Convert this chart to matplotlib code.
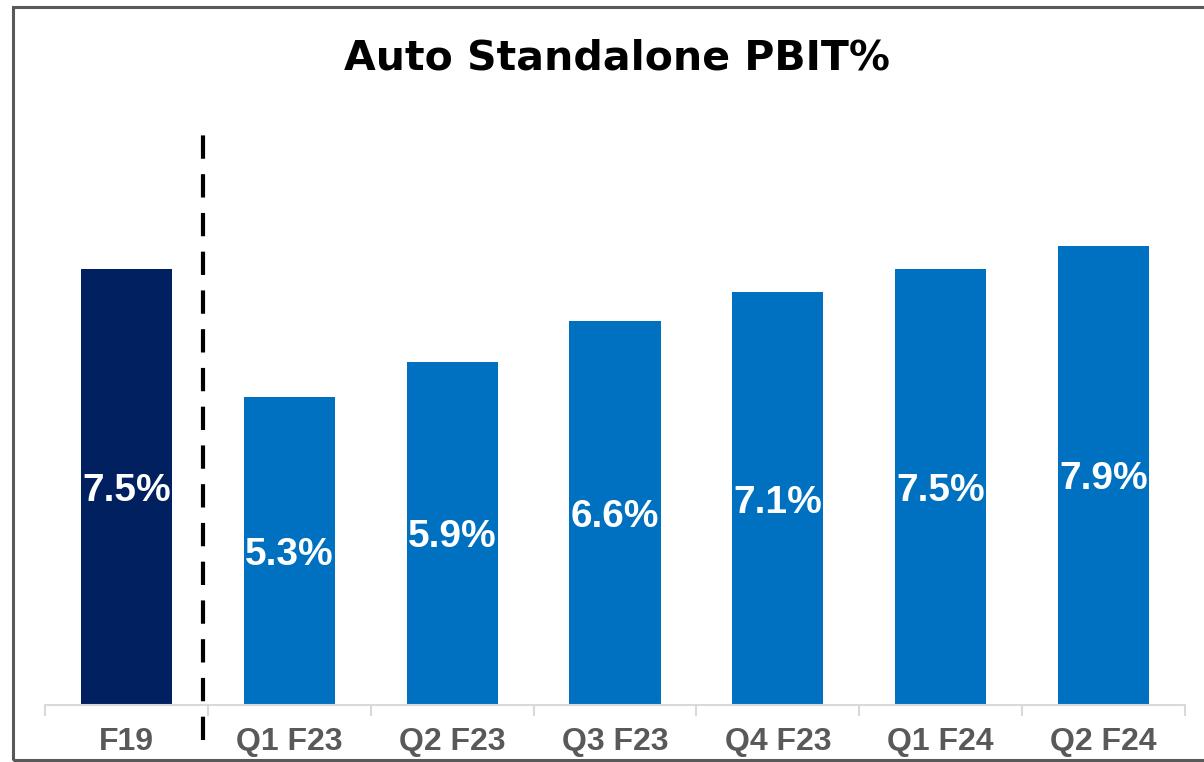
import matplotlib
matplotlib.use("Agg")
import matplotlib.pyplot as plt
from matplotlib.patches import Rectangle
import numpy as np

categories = ["F19", "Q1 F23", "Q2 F23", "Q3 F23", "Q4 F23", "Q1 F24", "Q2 F24"]
values = [7.5, 5.3, 5.9, 6.6, 7.1, 7.5, 7.9]
value_labels = ["7.5%", "5.3%", "5.9%", "6.6%", "7.1%", "7.5%", "7.9%"]
bar_colors = ["#002060"] + ["#0070C0"] * 6
title = "Auto Standalone PBIT%"

W, H = 1204, 762
fig = plt.figure(figsize=(W / 100, H / 100), dpi=100)
fig.patch.set_facecolor("white")

left, right, bottom, top = 45, 1185, 705, 100
ax = fig.add_axes([left / W, (H - bottom) / H, (right - left) / W, (bottom - top) / H])
ymax = (bottom - top) / 58.15
x = np.arange(len(categories))
bars = ax.bar(x, values, width=0.56, color=bar_colors, zorder=2)
ax.set_xlim(-0.5, len(categories) - 0.5)
ax.set_ylim(0, ymax)

for xi, v, lab in zip(x, values, value_labels):
    ax.text(xi, v / 2, lab, ha="center", va="center_baseline", color="white",
            fontsize=28, fontweight="bold", family="Liberation Sans", zorder=3)

for s in ["top", "right", "left"]:
    ax.spines[s].set_visible(False)
ax.spines["bottom"].set_color("#D9D9D9")
ax.spines["bottom"].set_linewidth(1.5)
ax.set_yticks([])
ax.set_xticks(x)
ax.set_xticklabels(categories, fontsize=23, fontweight="bold", color="#595959",
                   family="Liberation Sans")
ax.tick_params(axis="x", which="major", length=0, pad=16)
ax.set_xticks(np.arange(-0.5, len(categories), 1.0), minor=True)
ax.tick_params(axis="x", which="minor", length=8, width=1.5, color="#D9D9D9")

# dashed separator
y0 = (bottom - 740) / 58.15
y1 = (bottom - 133) / 58.15
ax.plot([0.473, 0.473], [y0, y1], color="black", lw=3, linestyle=(0, (5.6, 3.7)),
        clip_on=False, zorder=4)

fig.text(617 / W, 1 - 59 / H, title, ha="center", va="center", fontsize=29.5,
         fontweight="bold", family="DejaVu Sans", color="black")

# figure border
border = Rectangle((13 / W, 2 / H), 1.1, 1 - 9 / H, transform=fig.transFigure,
                   fill=False, edgecolor="#595959", lw=2.2, clip_on=False)
fig.patches.append(border)

fig.savefig("out.png", dpi=100)
